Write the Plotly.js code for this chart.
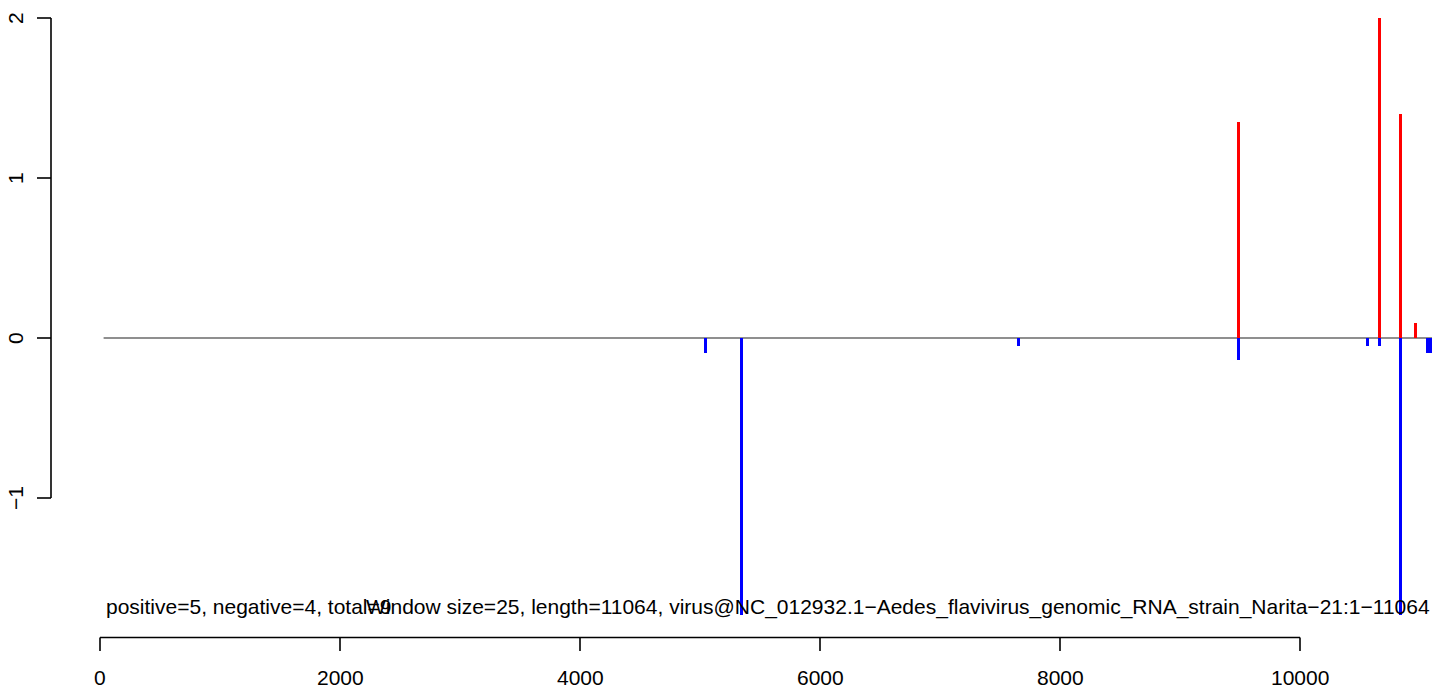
<!DOCTYPE html>
<html>
<head>
<meta charset="utf-8">
<script src="https://cdn.plot.ly/plotly-3.0.1.min.js"></script>
<style>html,body{margin:0;padding:0;background:#fff;}#chart{width:1452px;height:689px;}</style>
</head>
<body>
<div id="chart"></div>
<script>
// ---- data ----
var posX = [9485, 10661, 10836, 10961];
var posY = [1.35, 2.0, 1.40, 0.094];
var negX = [5044, 5344, 7658, 9485, 10561, 10661, 10836, 11063, 11088];
var negY = [-0.092, -1.73, -0.048, -0.14, -0.048, -0.048, -1.73, -0.092, -0.092];
var xTicks = [0, 2000, 4000, 6000, 8000, 10000];
var xTickLabels = ["0", "2000", "4000", "6000", "8000", "10000"];
var yTicks = [-1, 0, 1, 2];
var yTickLabels = ["\u22121", "0", "1", "2"];
var baseStart = 30, baseEnd = 11100;
var leftText = "positive=5, negative=4, total=9";
var rightText = "Window size=25, length=11064, virus@NC_012932.1\u2212Aedes_flavivirus_genomic_RNA_strain_Narita\u221221:1\u221211064";
var textY = -1.68;

var FONT = "Liberation Sans, Arial, Helvetica, sans-serif";
var fs = 21;

var traces = [
  {type: "bar", x: posX, y: posY, width: 25, marker: {color: "#ff0000", line: {width: 0}}, hoverinfo: "x+y"},
  {type: "bar", x: negX, y: negY, width: 25, marker: {color: "#0000ff", line: {width: 0}}, hoverinfo: "x+y"}
];

var shapes = [];
var annotations = [];
// baseline
shapes.push({type: "line", xref: "x", yref: "y", x0: baseStart, x1: baseEnd, y0: 0, y1: 0, line: {color: "#6a6a6a", width: 1.3}, layer: "below"});
// x axis (R style)
var axY = -17.5 / 610, tickEnd = -31 / 610, labY = -57 / 610;
shapes.push({type: "line", xref: "x", yref: "paper", x0: xTicks[0], x1: xTicks[xTicks.length - 1], y0: axY, y1: axY, line: {color: "#000", width: 1.6}});
xTicks.forEach(function (t, i) {
  shapes.push({type: "line", xref: "x", yref: "paper", x0: t, x1: t, y0: axY, y1: tickEnd, line: {color: "#000", width: 1.6}});
  annotations.push({xref: "x", yref: "paper", x: t, y: labY, text: xTickLabels[i], showarrow: false, xanchor: "center", yanchor: "middle", font: {family: FONT, size: fs, color: "#000"}});
});
// y axis (R style)
var axX = -9 / 1382, yTickEnd = -23 / 1382, yLabX = -45 / 1382;
shapes.push({type: "line", xref: "paper", yref: "y", x0: axX, x1: axX, y0: yTicks[0], y1: yTicks[yTicks.length - 1], line: {color: "#000", width: 1.6}});
yTicks.forEach(function (t, i) {
  shapes.push({type: "line", xref: "paper", yref: "y", x0: axX, x1: yTickEnd, y0: t, y1: t, line: {color: "#000", width: 1.6}});
  annotations.push({xref: "paper", yref: "y", x: yLabX, y: t, text: yTickLabels[i], textangle: -90, showarrow: false, xanchor: "center", yanchor: "middle", font: {family: FONT, size: fs, color: "#000"}});
});
// bottom texts
annotations.push({xref: "x", yref: "y", x: baseStart, y: textY, text: leftText, showarrow: false, xanchor: "left", yanchor: "middle", font: {family: FONT, size: fs, color: "#000"}});
annotations.push({xref: "x", yref: "y", x: baseEnd, y: textY, text: rightText, showarrow: false, xanchor: "right", yanchor: "middle", font: {family: FONT, size: fs, color: "#000"}});

var layout = {
  width: 1452, height: 689,
  margin: {l: 60, r: 10, t: 10, b: 69},
  paper_bgcolor: "#fff", plot_bgcolor: "#fff",
  showlegend: false,
  barmode: "overlay",
  bargap: 0,
  xaxis: {range: [-333.33, 11183.33], showgrid: false, zeroline: false, showline: false, showticklabels: false, ticks: ""},
  yaxis: {range: [-1.7625, 2.05], showgrid: false, zeroline: false, showline: false, showticklabels: false, ticks: ""},
  shapes: shapes,
  annotations: annotations,
  font: {family: FONT}
};

Plotly.newPlot("chart", traces, layout, {displayModeBar: false, staticPlot: true});
</script>
</body>
</html>
